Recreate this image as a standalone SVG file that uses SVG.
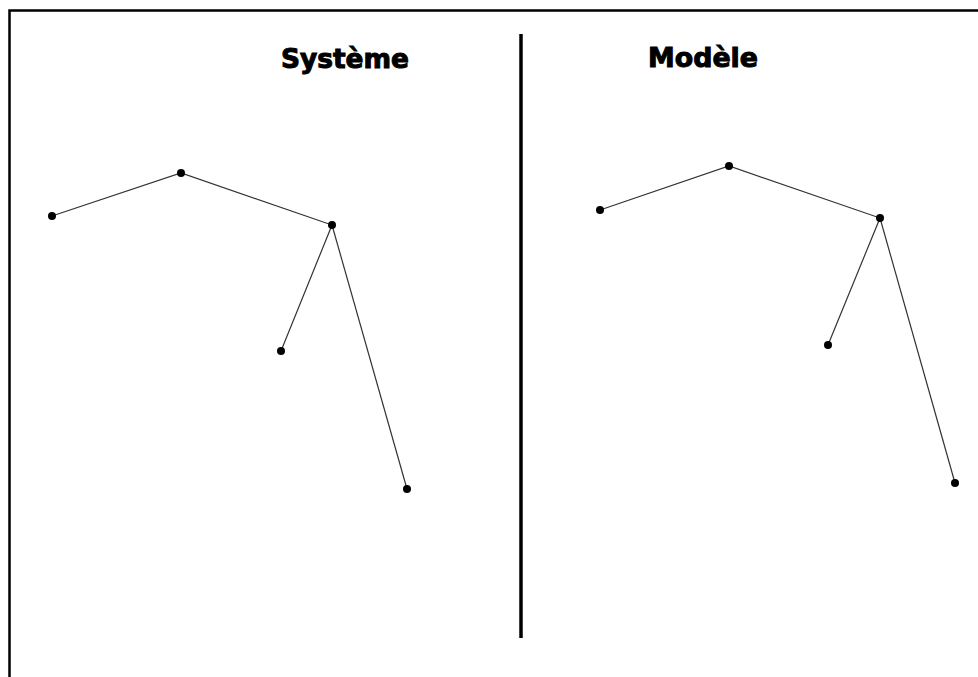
<svg xmlns="http://www.w3.org/2000/svg" width="978" height="677" viewBox="0 0 978 677">
<style>
.title{font-family:"DejaVu Sans","Liberation Sans",sans-serif;font-weight:bold;font-size:26px;fill:#000;stroke:#000;stroke-width:1}
.edge{stroke:#333;stroke-width:1.2;fill:none}
.dot{fill:#000}
</style>
<rect x="0" y="0" width="978" height="677" fill="#fff"/>
<path d="M9.5,680 V10.5 H980" fill="none" stroke="#000" stroke-width="2.5"/>
<line x1="521" y1="34" x2="521" y2="638" stroke="#000" stroke-width="3.5"/>
<text class="title" x="281" y="68" textLength="128" lengthAdjust="spacingAndGlyphs">Système</text>
<text class="title" x="648" y="67" textLength="110" lengthAdjust="spacingAndGlyphs">Modèle</text>
<g id="connectors">
<polyline class="edge" points="52,216 181,173 332,225 281,351"/>
<line class="edge" x1="332" y1="225" x2="407" y2="489"/>
<polyline class="edge" points="600,210 729,166 880,218 828,345"/>
<line class="edge" x1="880" y1="218" x2="955" y2="483"/>
</g>
<g id="s1"><circle class="dot" cx="52" cy="216" r="4"/></g>
<g id="s2"><circle class="dot" cx="181" cy="173" r="4"/></g>
<g id="s3"><circle class="dot" cx="332" cy="225" r="4"/></g>
<g id="s4"><circle class="dot" cx="281" cy="351" r="4"/></g>
<g id="s5"><circle class="dot" cx="407" cy="489" r="4"/></g>
<g id="m1"><circle class="dot" cx="600" cy="210" r="4"/></g>
<g id="m2"><circle class="dot" cx="729" cy="166" r="4"/></g>
<g id="m3"><circle class="dot" cx="880" cy="218" r="4"/></g>
<g id="m4"><circle class="dot" cx="828" cy="345" r="4"/></g>
<g id="m5"><circle class="dot" cx="955" cy="483" r="4"/></g>
</svg>
